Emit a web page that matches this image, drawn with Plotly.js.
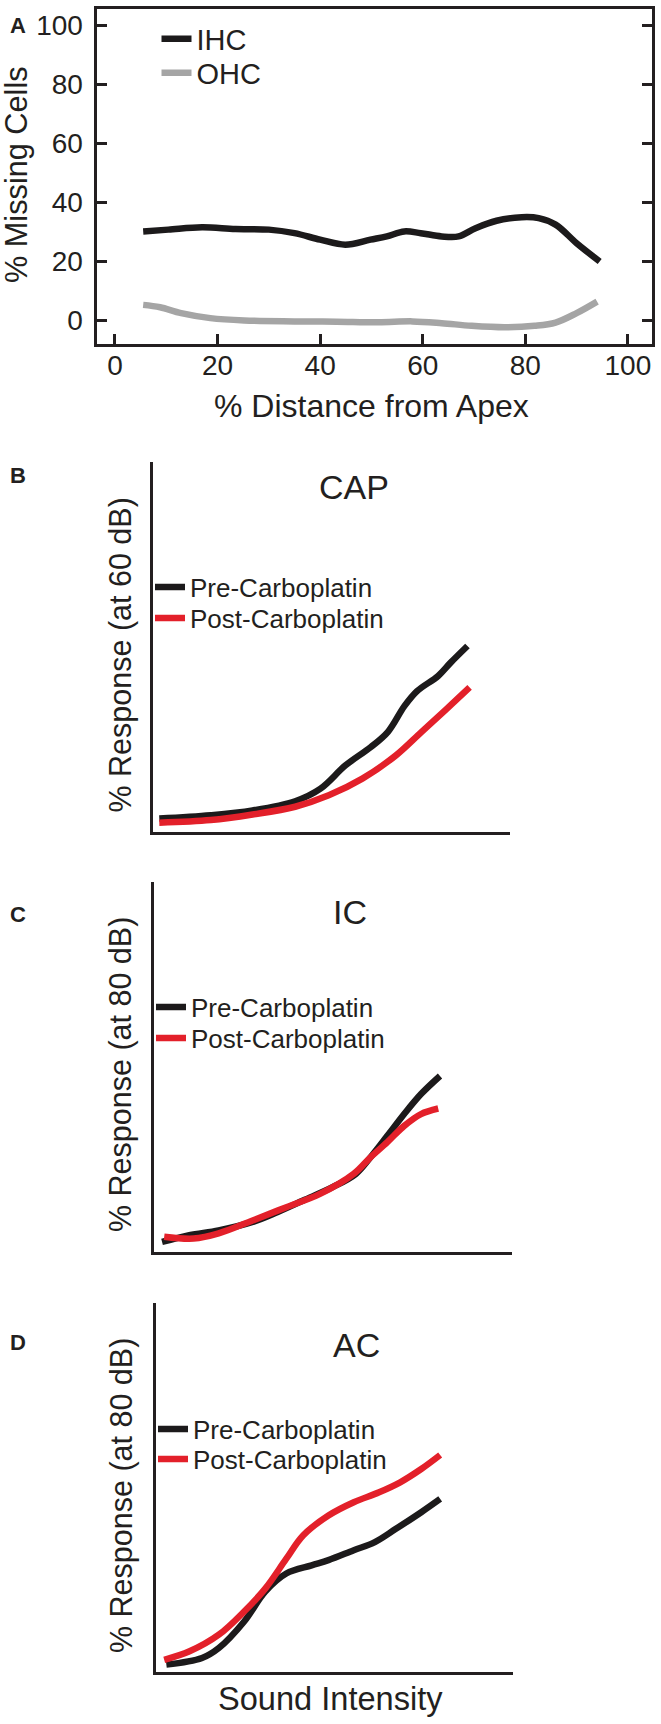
<!DOCTYPE html>
<html><head><meta charset="utf-8">
<script src="https://cdn.plot.ly/plotly-3.0.1.min.js"></script>
<style>html,body{margin:0;padding:0;background:#fff}</style>
</head><body><div id="chart" style="width:661px;height:1724px"></div>
<script>
// ---------- Panel A: % missing cells vs % distance from apex ----------
const ihcX = [5.5, 10.4, 17, 23.5, 30, 35, 40, 44.9, 49.8, 53, 56.4, 59.6, 63.7, 67, 70.3, 74.4, 79.3, 82.6, 85.9, 90, 94.5];
const ihcMissing = [30.2, 30.8, 31.6, 31, 30.8, 29.6, 27.4, 25.7, 27.4, 28.5, 30.2, 29.6, 28.5, 28.5, 31.3, 33.8, 35, 34.7, 32.5, 26.2, 20];
const ohcX = [5.5, 8.8, 12.9, 18.6, 25.2, 35, 43.2, 51.4, 58, 63.7, 69.5, 76, 81.8, 85.9, 90, 94];
const ohcMissing = [5.3, 4.5, 2.5, 0.8, 0, -0.3, -0.4, -0.6, -0.3, -0.9, -1.8, -2.3, -1.8, -0.7, 2.5, 6.4];
const tickValsA = [0, 20, 40, 60, 80, 100];
const tickTextA = ['0', '20', '40', '60', '80', '100'];

// ---------- Panel B: CAP ----------
const capPreX = [1.9, 16.3, 28, 39.9, 47, 54, 61, 65.8, 70.5, 74, 79.9, 83.4, 88.1];
const capPre = [3.5, 4.4, 5.7, 8.2, 11.6, 17.9, 22.8, 26.9, 34, 38, 42.1, 45.7, 50.2];
const capPostX = [1.9, 16.3, 28, 39.9, 49.3, 58.7, 68.1, 75.2, 82.3, 88.7];
const capPost = [2.4, 3.1, 4.6, 6.7, 9.8, 14.3, 20.6, 26.9, 33.2, 39];

// ---------- Panel C: IC ----------
const icPreX = [2.3, 9.9, 18.1, 27.6, 34.6, 41.7, 49.9, 56.4, 60.5, 65.2, 69.9, 74.6, 79.9];
const icPre = [2.6, 4.4, 5.7, 8, 10.7, 13.8, 17.4, 21, 25.5, 31.3, 37.2, 42.6, 47.5];
const icPostX = [2.9, 11.1, 18.1, 27.6, 37, 46.4, 55.8, 60.5, 65.2, 69.9, 74.6, 79.4];
const icPost = [4, 3.5, 4.9, 8.4, 12, 15.6, 21, 25.5, 29.6, 34, 37.2, 38.7];

// ---------- Panel D: AC ----------
const acPreX = [2.9, 12.9, 17.6, 24.7, 30.6, 36.5, 43.6, 48.3, 55.4, 61.3, 67.2, 74.3, 79.6];
const acPre = [2, 3.8, 6.5, 13.7, 21.8, 26.7, 28.9, 30.3, 33, 35.2, 38.8, 43.3, 46.9];
const acPostX = [2.3, 9.4, 17.6, 24.7, 30.6, 36.5, 41.2, 48.3, 55.4, 62.5, 68.4, 74.3, 79.6];
const acPost = [3.3, 5.6, 10.1, 16.4, 22.6, 30.7, 37, 42.4, 46, 48.7, 51.4, 55, 58.8];

const seriesNamesA = ['IHC', 'OHC'];
const seriesNamesBCD = ['Pre-Carboplatin', 'Post-Carboplatin'];
const panelTitles = ['CAP', 'IC', 'AC'];
const panelLetters = ['A', 'B', 'C', 'D'];
const yTitles = ['% Missing Cells', '% Response (at 60 dB)', '% Response (at 80 dB)', '% Response (at 80 dB)'];
const xTitles = ['% Distance from Apex', 'Sound Intensity'];

// ---------- styling ----------
const W = 661, H = 1724;
const FONT = '"Liberation Sans", Arial, sans-serif';
const INK = '#231f20';
const BLACK = '#1c1a1b';
const RED = '#e3202a';
const GRAY = '#a5a5a5';
const px = v => v / W;
const py = v => 1 - v / H;

function line(x, y, color, name, xa, ya, leg) {
  return {x: x, y: y, type: 'scatter', mode: 'lines', name: name,
    xaxis: xa, yaxis: ya, legend: leg, hoverinfo: 'skip',
    line: {color: color, width: 6.5, shape: 'spline', smoothing: 1}};
}

const data = [
  line(ihcX, ihcMissing, BLACK, seriesNamesA[0], 'x', 'y', 'legend'),
  line(ohcX, ohcMissing, GRAY, seriesNamesA[1], 'x', 'y', 'legend2'),
  line(capPreX, capPre, BLACK, seriesNamesBCD[0], 'x2', 'y2', 'legend3'),
  line(capPostX, capPost, RED, seriesNamesBCD[1], 'x2', 'y2', 'legend4'),
  line(icPreX, icPre, BLACK, seriesNamesBCD[0], 'x3', 'y3', 'legend5'),
  line(icPostX, icPost, RED, seriesNamesBCD[1], 'x3', 'y3', 'legend6'),
  line(acPreX, acPre, BLACK, seriesNamesBCD[0], 'x4', 'y4', 'legend7'),
  line(acPostX, acPost, RED, seriesNamesBCD[1], 'x4', 'y4', 'legend8')
];

function leg(xpx, ypx, size) {
  return {x: px(xpx), y: py(ypx), xanchor: 'left', yanchor: 'middle',
    bgcolor: 'rgba(0,0,0,0)', borderwidth: 0, itemwidth: 30,
    font: {family: FONT, size: size, color: INK}, itemclick: false, itemdoubleclick: false};
}

function bareX(domain, anchor) {
  return {domain: domain, anchor: anchor, range: [0, 100], showline: true, linewidth: 3, linecolor: INK,
    showgrid: false, zeroline: false, ticks: '', showticklabels: false, fixedrange: true};
}
function bareY(domain, anchor) {
  return {domain: domain, anchor: anchor, range: [0, 100], showline: true, linewidth: 3, linecolor: INK,
    showgrid: false, zeroline: false, ticks: '', showticklabels: false, fixedrange: true};
}
function ann(text, xpx, ypx, size, angle) {
  return {text: text, x: px(xpx), y: py(ypx), xref: 'paper', yref: 'paper', xanchor: 'center', yanchor: 'middle',
    showarrow: false, textangle: angle || 0, font: {family: FONT, size: size, color: INK}};
}

const layout = {
  width: W, height: H, autosize: false,
  margin: {l: 0, r: 0, t: 0, b: 0, pad: 0},
  paper_bgcolor: '#fff', plot_bgcolor: 'rgba(0,0,0,0)',
  font: {family: FONT, color: INK},
  showlegend: true,
  xaxis: {domain: [px(96.5), px(651.5)], range: [-3.6, 104.6], anchor: 'y',
    showline: true, mirror: true, linewidth: 3, linecolor: INK,
    ticks: 'inside', ticklen: 10, tickwidth: 3, tickcolor: INK,
    tickvals: tickValsA, ticktext: tickTextA, ticklabelstandoff: -5,
    tickfont: {family: FONT, size: 28, color: INK},
    showgrid: false, zeroline: false, fixedrange: true},
  yaxis: {domain: [py(343.5), py(8.5)], range: [-7.8, 105.76], anchor: 'x',
    showline: true, mirror: 'ticks', linewidth: 3, linecolor: INK,
    ticks: 'inside', ticklen: 10, tickwidth: 3, tickcolor: INK,
    tickvals: tickValsA, ticktext: tickTextA, ticklabelstandoff: 5,
    tickfont: {family: FONT, size: 28, color: INK},
    showgrid: false, zeroline: false, fixedrange: true},
  xaxis2: bareX([px(152.5), px(510)], 'y2'),
  yaxis2: bareY([py(831.5), py(462)], 'x2'),
  xaxis3: bareX([px(153.8), px(512)], 'y3'),
  yaxis3: bareY([py(1251.5), py(882)], 'x3'),
  xaxis4: bareX([px(156), px(513)], 'y4'),
  yaxis4: bareY([py(1672), py(1303)], 'x4'),
  legend: leg(156.5, 39, 29),
  legend2: leg(156.5, 73, 29),
  legend3: leg(150, 587, 26),
  legend4: leg(150, 618, 26),
  legend5: leg(151, 1007, 26),
  legend6: leg(151, 1038, 26),
  legend7: leg(153, 1429, 26),
  legend8: leg(153, 1459, 26),
  annotations: [
    ann('<b>' + panelLetters[0] + '</b>', 17.5, 26, 22),
    ann('<b>' + panelLetters[1] + '</b>', 17.5, 475, 22),
    ann('<b>' + panelLetters[2] + '</b>', 17.5, 915, 22),
    ann('<b>' + panelLetters[3] + '</b>', 17.5, 1342, 22),
    ann(panelTitles[0], 354, 486.5, 34),
    ann(panelTitles[1], 350, 912, 34),
    ann(panelTitles[2], 356, 1345, 34),
    ann(yTitles[0], 16, 175, 30.7, -90),
    ann(xTitles[0], 371.5, 406, 32),
    ann(yTitles[1], 119.5, 655, 30.5, -90),
    ann(yTitles[2], 120, 1075, 30.5, -90),
    ann(yTitles[3], 121, 1496, 30.5, -90),
    ann(xTitles[1], 330.5, 1698, 32.6)
  ]
};

Plotly.newPlot('chart', data, layout, {staticPlot: true, displayModeBar: false});
</script>
</body></html>
